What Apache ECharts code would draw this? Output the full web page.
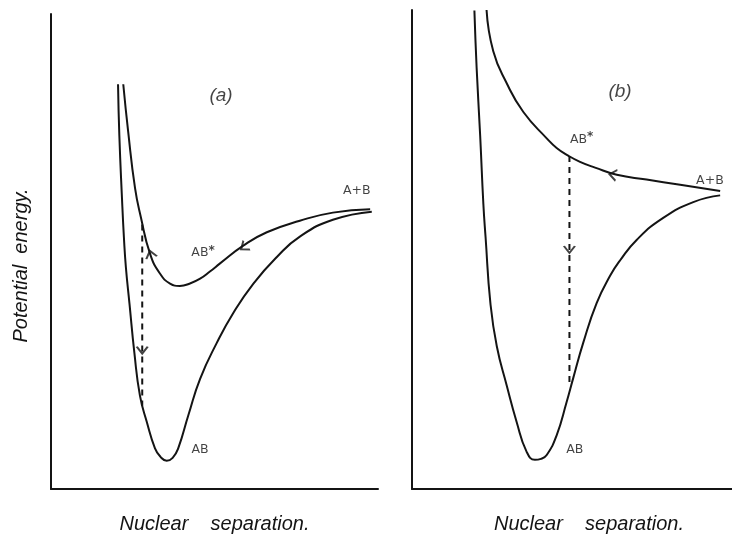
<!DOCTYPE html>
<html><head><meta charset="utf-8">
<script src="https://cdn.jsdelivr.net/npm/echarts@6.0.0/dist/echarts.min.js"></script>
<style>html,body{margin:0;padding:0;background:#fff}#c{width:732px;height:539px}</style>
</head><body><div id="c"></div>
<script>
// ---- Panel (a) curves: [nuclear separation, potential energy] (arbitrary units)
const aGroundAB = [[2.05,8.45],[2.09,7.38],[2.17,6.08],[2.23,5.25],[2.29,4.63],[2.40,3.87],[2.55,2.84],[2.72,1.95],[2.93,1.40],[3.18,0.85],[3.35,0.67],[3.54,0.59],[3.72,0.65],[3.89,0.85],[4.20,1.54],[4.56,2.30],[5.07,3.05],[5.57,3.67],[6.19,4.29],[6.90,4.84],[7.61,5.27],[8.62,5.62],[9.81,5.79]];
const aExcitedAB = [[2.21,8.45],[2.36,7.46],[2.57,6.28],[2.75,5.67],[3.03,4.91],[3.33,4.50],[3.64,4.29],[3.94,4.24],[4.25,4.29],[4.56,4.39],[4.86,4.54],[5.17,4.71],[5.88,5.08],[6.60,5.36],[7.61,5.60],[8.62,5.77],[9.76,5.84]];
const aTransition = [[2.79,5.52],[2.79,1.74]];
// ---- Panel (b) curves
const bGroundAB = [[1.95,9.99],[2.02,8.79],[2.13,7.38],[2.23,5.95],[2.30,5.25],[2.45,3.88],[2.65,2.98],[2.96,2.16],[3.27,1.40],[3.58,0.78],[3.84,0.61],[4.03,0.63],[4.21,0.71],[4.52,1.12],[4.83,1.81],[5.04,2.32],[5.35,3.05],[5.77,3.88],[6.19,4.45],[6.50,4.77],[7.02,5.20],[7.85,5.66],[8.79,5.99],[9.63,6.13]];
const bExcitedAB = [[2.33,10.0],[2.54,9.14],[2.96,8.47],[3.48,7.87],[4.21,7.32],[4.52,7.12],[4.88,6.96],[5.25,6.83],[5.72,6.71],[6.40,6.56],[7.33,6.46],[8.38,6.35],[9.63,6.22]];
const bTransition = [[4.92,6.95],[4.92,2.22]];
// ---- Text labels
const aLabelText = ['(a)','A+B','AB*','AB'];
const aLabelPos = [[5.20,8.22],[9.35,6.22],[4.65,4.94],[4.56,0.82]];
const bLabelText = ['(b)','A+B','AB*','AB'];
const bLabelPos = [[6.50,8.29],[9.31,6.43],[5.30,7.30],[5.09,0.82]];
// ---- Arrowheads: [x, y, direction rotation in degrees]
const aArrows = [[5.90,5.05,-53],[3.05,4.90,195],[2.79,2.90,0]];
const bArrows = [[6.28,6.56,260],[4.92,5.00,0]];
const axisTitleX = 'Nuclear    separation.';
const axisTitleY = 'Potential  energy.';

const INK = '#141414';
const titleFont = {fontFamily:'Liberation Sans', fontStyle:'italic', fontSize:20, color:INK};

function xAxis(i, pad){
  return {type:'value', gridIndex:i, min:0, max:10,
    axisLine:{show:true, onZero:false, lineStyle:{color:INK, width:2}},
    axisTick:{show:false}, axisLabel:{show:false}, splitLine:{show:false},
    name:axisTitleX, nameLocation:'middle', nameGap:25,
    nameTextStyle:Object.assign({padding:pad}, titleFont)};
}
function yAxis(i, max, withName){
  const ax = {type:'value', gridIndex:i, min:0, max:max,
    axisLine:{show:true, onZero:false, lineStyle:{color:INK, width:2}},
    axisTick:{show:false}, axisLabel:{show:false}, splitLine:{show:false}};
  if (withName){
    ax.name = axisTitleY; ax.nameLocation = 'middle'; ax.nameGap = 20;
    ax.nameTextStyle = Object.assign({padding:[0,28,0,0]}, titleFont);
  }
  return ax;
}
function curve(i, data){
  return {type:'line', xAxisIndex:i, yAxisIndex:i, data:data, smooth:0.5,
    symbol:'none', lineStyle:{color:INK, width:2}, silent:true};
}
function dashed(i, data){
  return {type:'line', xAxisIndex:i, yAxisIndex:i, data:data, symbol:'none',
    lineStyle:{color:INK, width:2, type:[6,5]}, silent:true};
}
function labels(i, texts, pos){
  return {type:'scatter', xAxisIndex:i, yAxisIndex:i, symbolSize:0, silent:true,
    data: texts.map((t,k)=>({value:pos[k], name:t})),
    label:{show:true, position:'inside', color:INK,
      formatter:(p)=>{
        const t = p.name;
        if (t.startsWith('(')) return '{p|'+t+'}';
        if (t.endsWith('*')) return '{n|'+t.slice(0,-1)+'}{s|*}';
        return '{n|'+t+'}';
      },
      rich:{
        p:{fontFamily:'Liberation Sans', fontStyle:'italic', fontSize:19, color:INK},
        n:{fontFamily:'DejaVu Sans', fontSize:12.5, color:INK},
        s:{fontFamily:'DejaVu Sans', fontSize:12, fontWeight:'bold', color:INK, padding:[0,0,4,0]}
      }}};
}
const chevron = 'path://M0,0 L10,10 L20,0';
function arrows(i, arr){
  return {type:'scatter', xAxisIndex:i, yAxisIndex:i, silent:true,
    data: arr.map(a=>({value:[a[0],a[1]], symbolRotate:a[2]})),
    symbol:chevron, symbolSize:[11,7],
    itemStyle:{color:'rgba(0,0,0,0)', borderColor:INK, borderWidth:1.8}};
}

const chart = echarts.init(document.getElementById('c'));
chart.setOption({
  animation:false,
  backgroundColor:'#fff',
  grid:[
    {left:51, top:14, width:327, height:480.5},
    {left:412, top:10, width:320, height:484.5}
  ],
  xAxis:[xAxis(0,[0,0,0,0]), xAxis(1,[0,0,0,34])],
  yAxis:[yAxis(0, 9.917, true), yAxis(1, 10, false)],
  series:[
    curve(0, aGroundAB), curve(0, aExcitedAB), dashed(0, aTransition),
    labels(0, aLabelText, aLabelPos), arrows(0, aArrows),
    curve(1, bGroundAB), curve(1, bExcitedAB), dashed(1, bTransition),
    labels(1, bLabelText, bLabelPos), arrows(1, bArrows)
  ]
});
</script></body></html>
